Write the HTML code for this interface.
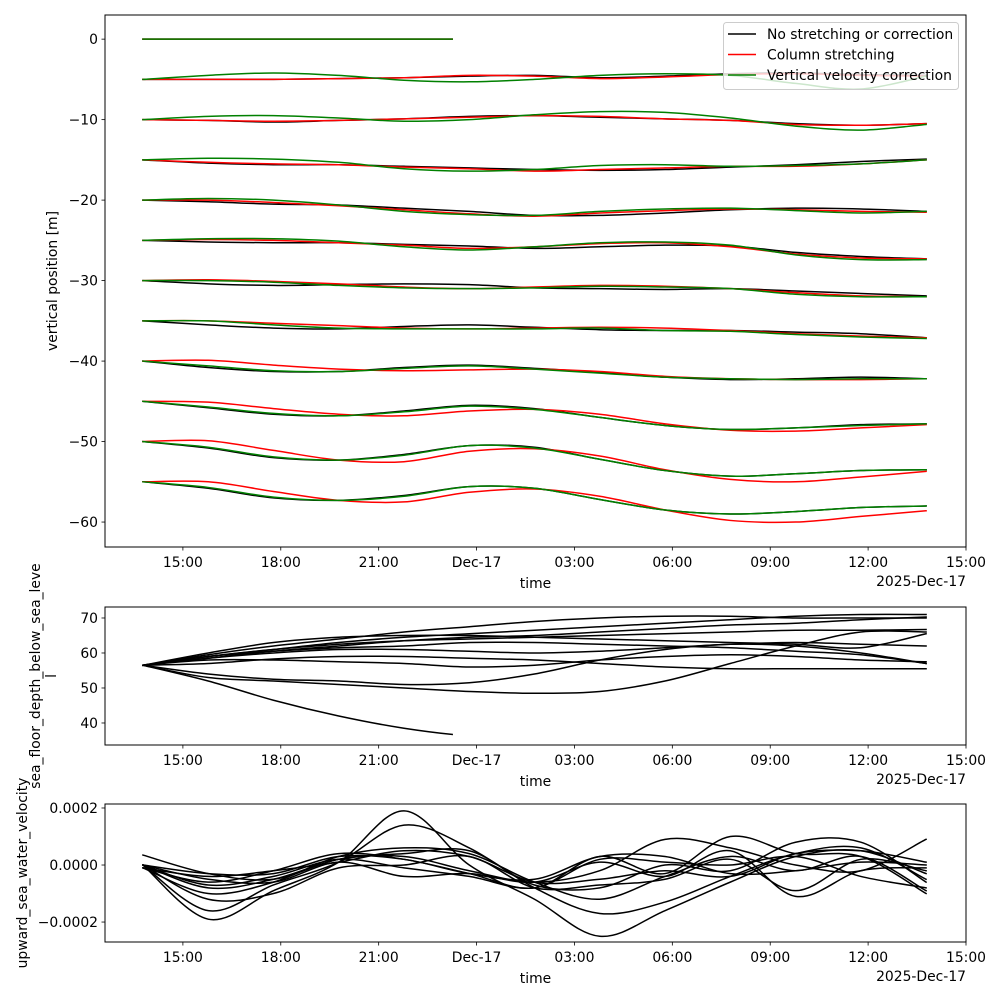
<!DOCTYPE html>
<html><head><meta charset="utf-8"><style>
html,body{margin:0;padding:0;background:#fff;}
svg{display:block;font-family:"DejaVu Sans","Liberation Sans",sans-serif;}
</style></head><body>
<svg id="fig" width="1000" height="1000" viewBox="0 0 1000 1000" xmlns="http://www.w3.org/2000/svg"></svg>
<script>
// ---- data ----
const sampleHours = [0,2,4,6,8,10,12,14,16,18,20,22,24]; // hours since release (13:47)
const xTickHours = [3,6,9,12,15,18,21,24,27]; // hours since 12:00 day 1
const xTickLabels = ["15:00","18:00","21:00","Dec-17","03:00","06:00","09:00","12:00","15:00"];
const topTicks = [0,-10,-20,-30,-40,-50,-60];
const midTicks = [70,60,50,40];
const botTicks = [0.0002,0,-0.0002];
const botTickLabels = ["0.0002","0.0000","\u22120.0002"];
const zeroStopHour = 9.5;

const blackPos = [
[0,0,0,0,0,0,null,null,null,null,null,null,null],
[-5,-5,-5,-4.9,-4.8,-4.6,-4.5,-4.8,-4.6,-4.3,-4.2,-4.4,-4.5],
[-10,-10.1,-10.3,-10.1,-9.9,-9.6,-9.5,-9.7,-9.9,-10.1,-10.5,-10.7,-10.5],
[-15,-15.4,-15.6,-15.6,-15.8,-16.0,-16.2,-16.3,-16.2,-15.9,-15.6,-15.2,-14.9],
[-20,-20.2,-20.5,-20.6,-21.0,-21.4,-21.9,-21.9,-21.6,-21.2,-21.0,-21.1,-21.4],
[-25,-25.2,-25.3,-25.3,-25.5,-25.7,-26.0,-25.8,-25.6,-25.7,-26.5,-27.0,-27.3],
[-30,-30.4,-30.6,-30.5,-30.4,-30.5,-30.9,-31.0,-31.1,-31.0,-31.3,-31.6,-31.9],
[-35,-35.5,-35.9,-36.0,-35.7,-35.5,-35.8,-36.1,-36.2,-36.2,-36.4,-36.6,-37.1],
[-40,-40.8,-41.3,-41.3,-40.8,-40.5,-40.9,-41.4,-42.0,-42.3,-42.2,-42.0,-42.2],
[-45,-45.8,-46.6,-46.8,-46.2,-45.5,-45.9,-47.0,-48.0,-48.5,-48.3,-47.9,-47.8],
[-50,-50.8,-52.0,-52.3,-51.6,-50.5,-50.7,-52.2,-53.6,-54.3,-54.0,-53.6,-53.5],
[-55,-55.8,-57.0,-57.3,-56.7,-55.6,-55.8,-57.2,-58.5,-59.0,-58.7,-58.2,-58.0]];
const redPos = [
[0,0,0,0,0,0,null,null,null,null,null,null,null],
[-5,-5,-5,-4.9,-4.8,-4.5,-4.6,-4.9,-4.7,-4.4,-4.3,-4.5,-4.6],
[-10,-10.1,-10.2,-10.1,-9.9,-9.7,-9.5,-9.6,-9.9,-10.1,-10.6,-10.7,-10.5],
[-15,-15.3,-15.5,-15.6,-15.9,-16.1,-16.4,-16.2,-16.0,-15.8,-15.8,-15.5,-15.0],
[-20,-20.0,-20.3,-20.7,-21.2,-21.7,-22.0,-21.6,-21.3,-21.1,-21.2,-21.4,-21.5],
[-25,-24.9,-25.0,-25.3,-25.6,-26.0,-25.8,-25.4,-25.3,-25.8,-26.7,-27.2,-27.3],
[-30,-29.9,-30.1,-30.4,-30.8,-31.0,-30.8,-30.6,-30.7,-31.0,-31.5,-31.9,-32.0],
[-35,-35.0,-35.3,-35.6,-35.9,-36.0,-35.9,-35.8,-35.9,-36.2,-36.6,-36.9,-37.1],
[-40,-39.9,-40.5,-41.0,-41.2,-41.1,-41.0,-41.3,-41.9,-42.2,-42.3,-42.3,-42.2],
[-45,-45.1,-45.9,-46.6,-46.8,-46.2,-46.0,-46.6,-47.8,-48.6,-48.7,-48.3,-47.9],
[-50,-49.9,-51.1,-52.3,-52.5,-51.2,-50.9,-51.8,-53.5,-54.7,-55.0,-54.4,-53.7],
[-55,-55.0,-56.2,-57.3,-57.5,-56.3,-55.9,-56.8,-58.5,-59.8,-60.0,-59.3,-58.6]];
const greenPos = [
[0,0,0,0,0,0,null,null,null,null,null,null,null],
[-5,-4.5,-4.2,-4.5,-5.1,-5.3,-5.0,-4.5,-4.3,-4.5,-5.5,-6.2,-4.6],
[-10,-9.6,-9.5,-9.8,-10.2,-10.0,-9.4,-9.0,-9.1,-9.8,-10.8,-11.3,-10.6],
[-15,-14.8,-14.9,-15.3,-16.1,-16.4,-16.2,-15.7,-15.6,-15.8,-15.7,-15.5,-15.0],
[-20,-19.8,-20.0,-20.6,-21.4,-21.8,-21.9,-21.4,-21.1,-21.0,-21.3,-21.6,-21.4],
[-25,-24.8,-24.8,-25.1,-25.8,-26.2,-25.8,-25.3,-25.2,-25.6,-26.8,-27.4,-27.4],
[-30,-30.0,-30.2,-30.6,-30.9,-31.0,-30.9,-30.7,-30.8,-31.0,-31.7,-32.0,-32.0],
[-35,-35.0,-35.5,-35.9,-36.0,-36.0,-36.0,-35.9,-36.2,-36.3,-36.7,-37.0,-37.2],
[-40,-40.6,-41.2,-41.3,-40.9,-40.6,-41.0,-41.5,-42.0,-42.2,-42.3,-42.2,-42.2],
[-45,-45.7,-46.5,-46.8,-46.3,-45.6,-46.0,-47.0,-48.0,-48.5,-48.3,-48.0,-47.8],
[-50,-50.7,-51.9,-52.3,-51.7,-50.5,-50.8,-52.2,-53.6,-54.3,-54.0,-53.6,-53.5],
[-55,-55.7,-56.9,-57.3,-56.8,-55.6,-55.8,-57.2,-58.5,-59.0,-58.7,-58.2,-58.0]];
const depthValues = [
[56.5,52,46.5,42,38.5,36.3,35.8,null,null,null,null,null,null],
[56.5,59,61,63,64.5,65.5,66.5,67.5,68.5,69.5,70.5,71,71],
[56.5,58.5,60.5,62,63.5,64.5,65,66,67,68,68.5,69.5,70.3],
[56.5,59.5,62,64,66,67.5,69,70,70.5,70.5,70,70,70],
[56.5,59,61,62.5,63.5,64,64.5,65,65.5,66,66.5,66.5,66.7],
[56.5,53,52,51,50,49,48.5,49,52,57,62,66,66],
[56.5,58,58,57.5,57,56,56.5,58,59,59.5,59,58,57.5],
[56.5,57,58.3,59,59,58.5,58,57,56,55.5,55.5,55.5,55.5],
[56.5,59,60.5,61.5,62,63,63,62.5,62,61.5,60.5,59.5,57],
[56.5,58.5,60,61,61,60.5,60,60.5,61.5,62.5,63,62.5,62],
[56.5,60,63,64.5,65,65,64.5,64,63.5,63,62.5,61.5,65.5],
[56.5,54,52.5,52,51,51.5,54,58,61,62.5,62,60,57]];
const wValues = [
[0.0,-1.9,-0.9,0.1,1.9,0.0,-1.2,-2.5,-1.6,-0.6,0.3,0.5,-0.3],
[0.0,-1.6,-0.7,0.1,1.4,0.6,-0.8,-1.7,-1.3,-0.4,0.4,0.6,-0.5],
[0.35,-0.3,-0.5,0.2,0.3,-0.2,-0.6,-0.2,0.9,0.6,0.0,-0.2,0.9],
[-0.1,-0.6,-0.2,0.4,0.2,-0.3,-0.8,0.3,-0.3,1.0,0.4,0.3,-1.0],
[0.0,-0.8,-0.5,0.2,0.4,0.5,-0.7,-0.8,0.0,-0.2,0.8,0.8,-0.6],
[0.0,-0.5,-0.6,0.1,-0.4,-0.3,-0.6,0.1,-0.4,0.5,-1.1,-0.2,-0.1],
[0.0,-1.2,-1.0,-0.1,0.0,0.3,-0.8,-0.7,-0.5,0.2,-0.9,0.2,-0.2],
[-0.1,-0.4,-0.2,0.1,0.5,0.3,-0.6,-0.5,-0.2,-0.4,0.4,0.5,0.1],
[0.0,-0.7,-0.4,0.2,-0.1,-0.4,-0.8,0.2,0.1,0.0,0.3,-0.4,-0.8],
[0.0,-0.3,-0.3,0.3,0.2,-0.3,-0.5,0.3,0.3,-0.3,-0.2,0.1,0.0],
[-0.1,-1.0,-0.6,0.3,0.6,0.4,-0.6,-1.2,-0.4,0.3,-0.2,0.3,-0.9]];
const wScale = 1e-4;

// ---- layout ----
const NS="http://www.w3.org/2000/svg";
const svg=document.getElementById('fig');
const X0=105,X1=966, H0=0.613, H1=27;
const releaseHour=1.776;
function xH(h){return X0+(h-H0)*(X1-X0)/(H1-H0);}
function xT(t){return xH(releaseHour+t);}
const panels=[
 {name:'position',top:15,bottom:547,vmax:3.0,vmin:-63.1},
 {name:'depth',top:607,bottom:745,vmax:73.14,vmin:33.71},
 {name:'velocity',top:804,bottom:942,vmax:0.000214,vmin:-0.000270}];
function yS(p,v){return p.top+(p.vmax-v)*(p.bottom-p.top)/(p.vmax-p.vmin);}
function el(tag,attrs,parent){const e=document.createElementNS(NS,tag);for(const k in attrs)e.setAttribute(k,attrs[k]);(parent||svg).appendChild(e);return e;}
function txt(s,attrs,parent){const e=el('text',attrs,parent);e.textContent=s;return e;}
function pathFrom(pts){
  if(pts.length<2)return '';
  let d='M'+pts[0][0].toFixed(2)+','+pts[0][1].toFixed(2);
  for(let i=0;i<pts.length-1;i++){
    const p0=pts[Math.max(0,i-1)],p1=pts[i],p2=pts[i+1],p3=pts[Math.min(pts.length-1,i+2)];
    const c1=[p1[0]+(p2[0]-p0[0])/6,p1[1]+(p2[1]-p0[1])/6];
    const c2=[p2[0]-(p3[0]-p1[0])/6,p2[1]-(p3[1]-p1[1])/6];
    d+='C'+c1[0].toFixed(2)+','+c1[1].toFixed(2)+' '+c2[0].toFixed(2)+','+c2[1].toFixed(2)+' '+p2[0].toFixed(2)+','+p2[1].toFixed(2);
  }
  return d;
}
const defs=el('defs',{});
panels.forEach((p,i)=>{
  const c=el('clipPath',{id:'clip'+i},defs);
  el('rect',{x:X0,y:p.top,width:X1-X0,height:p.bottom-p.top},c);
});
const zc=el('clipPath',{id:'zeroclip'},defs);
el('rect',{x:0,y:0,width:xT(zeroStopHour),height:1000},zc);

function drawSeries(p,pi,rows,color,name,scale){
  const g=el('g',{'clip-path':'url(#clip'+pi+')'});
  
  
  rows.forEach((row,ri)=>{
    const pts=[];
    row.forEach((v,k)=>{if(v!==null)pts.push([xT(sampleHours[k]),yS(p,v*scale)]);});
    const path=el('path',{d:pathFrom(pts),fill:'none',stroke:color,'stroke-width':1.5,'stroke-linejoin':'round','stroke-linecap':'square'},g);
    
    
    if(row.includes(null))path.setAttribute('clip-path','url(#zeroclip)');
  });
}
function drawAxes(p,pi){
  const g=el('g',{});
  
  
  el('rect',{x:X0,y:p.top,width:X1-X0,height:p.bottom-p.top,fill:'none',stroke:'#000','stroke-width':1},g);
  xTickHours.forEach((h,i)=>{
    const x=xH(h);
    el('line',{x1:x,x2:x,y1:p.bottom,y2:p.bottom+3.5,stroke:'#000','stroke-width':0.8},g);
    const t=txt(xTickLabels[i],{x:x,y:p.bottom+20,'font-size':13.9,'text-anchor':'middle',fill:'#000'},g);
    
    
  });
  const xt=txt('time',{x:(X0+X1)/2,y:p.bottom+41,'font-size':13.9,'text-anchor':'middle'},g);
  
  
  const off=txt('2025-Dec-17',{x:X1,y:p.bottom+39,'font-size':13.9,'text-anchor':'end'},g);
  
  
  return g;
}
function yTicks(p,g,vals,labels){
  vals.forEach((v,i)=>{
    const y=yS(p,v);
    el('line',{x1:X0-3.5,x2:X0,y1:y,y2:y,stroke:'#000','stroke-width':0.8},g);
    const t=txt(labels[i],{x:X0-7,y:y+5,'font-size':13.9,'text-anchor':'end'},g);
    
    
  });
}
const fmtInt=v=>v<0?'\u2212'+Math.abs(v):String(v);

// top
const p0=panels[0];
drawSeries(p0,0,blackPos,'#000','no-correction',1);
drawSeries(p0,0,redPos,'#ff0000','column-stretching',1);
drawSeries(p0,0,greenPos,'#008000','vertical-velocity-correction',1);
const g0=drawAxes(p0,0);
yTicks(p0,g0,topTicks,topTicks.map(fmtInt));
const yl0=txt('vertical position [m]',{x:0,y:0,'font-size':13.9,'text-anchor':'middle',transform:'translate(57,281) rotate(-90)'},g0);



// legend
const lg=el('g',{});


el('rect',{x:723.5,y:22.5,width:235,height:67,rx:3,fill:'#fff','fill-opacity':0.8,stroke:'#ccc','stroke-width':1},lg);
[['No stretching or correction','#000'],['Column stretching','#ff0000'],['Vertical velocity correction','#008000']].forEach((e,i)=>{
  const y=34+i*20.5;
  const le=el('g',{},lg);
  
  
  el('line',{x1:728,x2:756,y1:y,y2:y,stroke:e[1],'stroke-width':1.5},le);
  txt(e[0],{x:767,y:y+5,'font-size':13.9},le);
});

// middle
const p1=panels[1];
drawSeries(p1,1,depthValues,'#000','sea-floor-depth',1);
const g1=drawAxes(p1,1);
yTicks(p1,g1,midTicks,midTicks.map(String));
const yl1=el('text',{x:0,y:0,'font-size':13.9,'text-anchor':'middle',transform:'translate(52,676) rotate(-90)'},g1);


const ts1=el('tspan',{x:0,dy:-12},yl1);ts1.textContent='sea_floor_depth_below_sea_leve';
const ts2=el('tspan',{x:0,dy:16},yl1);ts2.textContent='l';

// bottom
const p2=panels[2];
drawSeries(p2,2,wValues,'#000','vertical-velocity',wScale);
const g2=drawAxes(p2,2);
yTicks(p2,g2,botTicks,botTickLabels);
const yl2=txt('upward_sea_water_velocity',{x:0,y:0,'font-size':13.9,'text-anchor':'middle',transform:'translate(27,873) rotate(-90)'},g2);


</script>
</body></html>
